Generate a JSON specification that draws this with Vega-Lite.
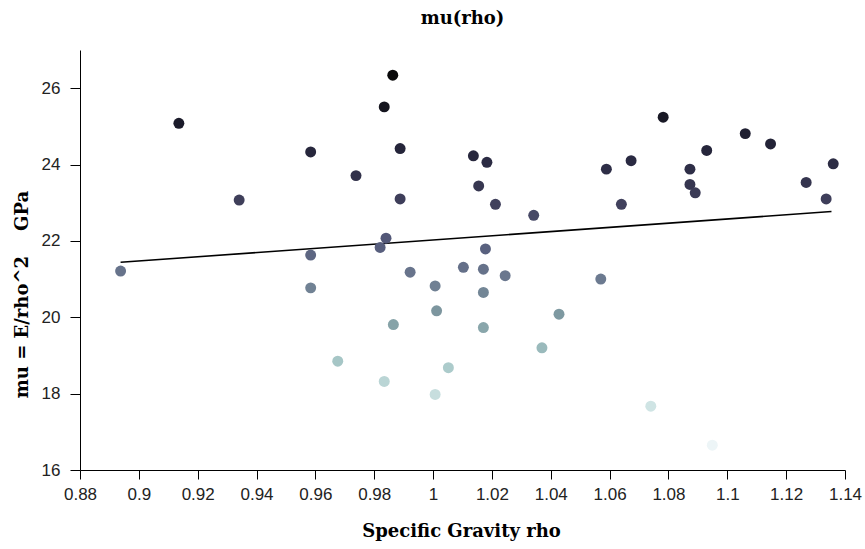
{
  "$schema": "https://vega.github.io/schema/vega-lite/v6.json",
  "width": 765,
  "height": 420,
  "autosize": "none",
  "padding": {"left": 80, "top": 50, "right": 20, "bottom": 79},
  "background": "white",
  "config": {
    "view": {"stroke": null},
    "axis": {
      "grid": false,
      "domainColor": "black",
      "domainWidth": 1,
      "tickColor": "black",
      "tickWidth": 1,
      "labelFont": "Liberation Sans",
      "labelFontSize": 17,
      "labelColor": "#222222",
      "labelOverlap": false,
      "labelFlush": false,
      "titleFont": "DejaVu Serif",
      "titleFontWeight": "bold",
      "titleFontSize": 18,
      "titleColor": "black"
    }
  },
  "title": {
    "text": "mu(rho)",
    "font": "DejaVu Serif",
    "fontWeight": "bold",
    "fontSize": 18,
    "color": "black",
    "offset": 22
  },
  "datasets": {
    "samples": [
      {"rho": 0.8938, "mu": 21.21},
      {"rho": 0.9136, "mu": 25.08},
      {"rho": 0.9341, "mu": 23.07},
      {"rho": 0.9584, "mu": 24.33},
      {"rho": 0.9584, "mu": 21.63},
      {"rho": 0.9584, "mu": 20.77},
      {"rho": 0.9676, "mu": 18.85},
      {"rho": 0.9738, "mu": 23.71},
      {"rho": 0.982, "mu": 21.83},
      {"rho": 0.9834, "mu": 25.51},
      {"rho": 0.9834, "mu": 18.32},
      {"rho": 0.984, "mu": 22.07},
      {"rho": 0.9863, "mu": 26.34},
      {"rho": 0.9865, "mu": 19.81},
      {"rho": 0.9888, "mu": 24.42},
      {"rho": 0.9888, "mu": 23.10},
      {"rho": 0.9922, "mu": 21.18},
      {"rho": 1.0007, "mu": 20.82},
      {"rho": 1.0007, "mu": 17.98},
      {"rho": 1.0012, "mu": 20.17},
      {"rho": 1.0052, "mu": 18.68},
      {"rho": 1.0103, "mu": 21.31},
      {"rho": 1.0137, "mu": 24.23},
      {"rho": 1.0155, "mu": 23.44},
      {"rho": 1.0171, "mu": 21.26},
      {"rho": 1.0171, "mu": 20.65},
      {"rho": 1.0171, "mu": 19.73},
      {"rho": 1.0178, "mu": 21.79},
      {"rho": 1.0183, "mu": 24.06},
      {"rho": 1.0212, "mu": 22.96},
      {"rho": 1.0245, "mu": 21.09},
      {"rho": 1.0342, "mu": 22.67},
      {"rho": 1.037, "mu": 19.20},
      {"rho": 1.0428, "mu": 20.08},
      {"rho": 1.057, "mu": 21.00},
      {"rho": 1.0589, "mu": 23.88},
      {"rho": 1.064, "mu": 22.96},
      {"rho": 1.0673, "mu": 24.10},
      {"rho": 1.074, "mu": 17.67},
      {"rho": 1.0782, "mu": 25.24},
      {"rho": 1.0873, "mu": 23.88},
      {"rho": 1.0873, "mu": 23.48},
      {"rho": 1.0891, "mu": 23.26},
      {"rho": 1.093, "mu": 24.37},
      {"rho": 1.0949, "mu": 16.65},
      {"rho": 1.1061, "mu": 24.81},
      {"rho": 1.1147, "mu": 24.54},
      {"rho": 1.1268, "mu": 23.53},
      {"rho": 1.1336, "mu": 23.10},
      {"rho": 1.136, "mu": 24.02}
    ],
    "fit": [
      {"rho": 0.8938, "mu": 21.44},
      {"rho": 1.1354, "mu": 22.77}
    ]
  },
  "layer": [
    {
      "data": {"name": "fit"},
      "mark": {"type": "line", "color": "black", "strokeWidth": 1.6},
      "encoding": {
        "x": {"field": "rho", "type": "quantitative", "scale": {"domain": [0.88, 1.14], "nice": false, "zero": false}},
        "y": {"field": "mu", "type": "quantitative", "scale": {"domain": [16, 27], "nice": false, "zero": false}}
      }
    },
    {
      "data": {"name": "samples"},
      "mark": {"type": "circle", "size": 120, "opacity": 1},
      "encoding": {
        "x": {
          "field": "rho",
          "type": "quantitative",
          "scale": {"domain": [0.88, 1.14], "nice": false, "zero": false},
          "axis": {
            "title": "Specific Gravity rho",
            "values": [0.88, 0.89, 0.9, 0.91, 0.92, 0.93, 0.94, 0.95, 0.96, 0.97, 0.98, 0.99, 1.0, 1.01, 1.02, 1.03, 1.04, 1.05, 1.06, 1.07, 1.08, 1.09, 1.1, 1.11, 1.12, 1.13, 1.14],
            "labelExpr": "round(datum.value * 100) % 2 == 0 ? format(datum.value, '~g') : ''",
            "tickSize": {"condition": {"test": "round(datum.value * 100) % 2 == 1", "value": 4}, "value": 9},
            "labelPadding": 7,
            "titleX": 381,
            "titleY": 66,
            "titleAlign": "center",
            "titleBaseline": "alphabetic"
          }
        },
        "y": {
          "field": "mu",
          "type": "quantitative",
          "scale": {"domain": [16, 27], "nice": false, "zero": false},
          "axis": {
            "title": "mu = E/rho^2\u00a0\u00a0\u00a0\u00a0GPa",
            "values": [16, 17, 18, 19, 20, 21, 22, 23, 24, 25, 26, 27],
            "labelExpr": "datum.value % 2 == 0 ? datum.label : ''",
            "tickSize": {"condition": {"test": "datum.value % 2 == 1", "value": 4}, "value": 10},
            "labelPadding": 10,
            "titleX": -58,
            "titleY": 244,
            "titleAngle": 270,
            "titleAlign": "center",
            "titleBaseline": "middle"
          }
        },
        "color": {
          "field": "mu",
          "type": "quantitative",
          "scale": {
            "domain": [16.6, 18, 19, 20, 21, 22, 23, 24, 25, 26.4],
            "range": ["#eef6f8", "#c6dede", "#a0c2c2", "#809ca2", "#6c7a90", "#545a7a", "#40405c", "#2c2c44", "#1c1c2c", "#080808"],
            "interpolate": "rgb"
          },
          "legend": null
        }
      }
    }
  ]
}
